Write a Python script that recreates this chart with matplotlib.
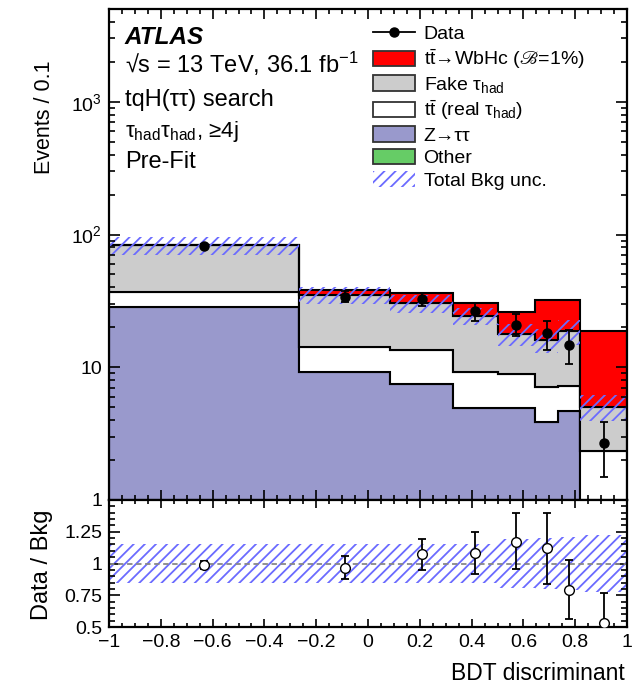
import numpy as np
import matplotlib
matplotlib.use("Agg")
import matplotlib.pyplot as plt
from matplotlib.patches import Patch
from matplotlib.lines import Line2D
from matplotlib.ticker import FixedLocator, MultipleLocator, LogLocator, FuncFormatter, NullFormatter

plt.rcParams["font.family"] = ["Liberation Sans", "DejaVu Sans"]
plt.rcParams["mathtext.fontset"] = "custom"
plt.rcParams["mathtext.rm"] = "Liberation Sans"
plt.rcParams["mathtext.it"] = "Liberation Sans:italic"
plt.rcParams["mathtext.bf"] = "Liberation Sans:bold"
plt.rcParams["mathtext.fallback"] = "stix"
plt.rcParams["hatch.linewidth"] = 1.3

# BDT bins and pre-fit yields (events / 0.1)
edges = np.array([-1.0, -0.265, 0.085, 0.33, 0.5, 0.645, 0.735, 0.82, 1.0])
other = np.array([0.3, 0.2, 0.2, 0.15, 0.15, 0.1, 0.1, 0.1])
ztautau = np.array([27.9, 9.0, 7.25, 4.76, 4.82, 3.8, 4.62, 0.4])
ttbar_real = np.array([8.6, 5.1, 5.95, 4.37, 3.93, 3.18, 2.52, 1.84])
fake = np.array([46.2, 20.9, 17.0, 15.1, 9.0, 9.0, 11.4, 2.71])
signal = np.array([0.4, 2.7, 5.8, 6.0, 8.4, 16.1, 13.6, 13.75])
bkg_unc = np.array([0.15, 0.15, 0.15, 0.15, 0.19, 0.20, 0.21, 0.225])  # relative
data = np.array([82.0, 34.0, 32.6, 26.4, 20.9, 18.0, 14.7, 2.7])
data_err_lo = np.array([2.5, 3.0, 3.7, 4.0, 3.8, 4.5, 4.2, 1.2])
data_err_hi = np.array([2.5, 3.4, 3.6, 4.1, 4.1, 4.5, 4.5, 1.17])

C_SIG, C_FAKE, C_TT, C_Z, C_OTHER = "#ff0000", "#cccccc", "white", "#9999cc", "#66cc66"
C_HATCH = "#6b6bff"
FS = 14

W, H = 639, 687
fig = plt.figure(figsize=(W / 100, H / 100), dpi=100)
L, R = 109 / W, 627 / W
ax = fig.add_axes([L, 1 - 500 / H, R - L, (500 - 9) / H])
axr = fig.add_axes([L, 1 - 627 / H, R - L, (627 - 500) / H])

centers = 0.5 * (edges[:-1] + edges[1:])
bkg = other + ztautau + ttbar_real + fake

# stacked histogram, bottom to top
base = np.full(len(centers), 1e-3)
for vals, col in [(other, C_OTHER), (ztautau, C_Z), (ttbar_real, C_TT), (fake, C_FAKE), (signal, C_SIG)]:
    top = base + vals
    ax.stairs(top, edges, baseline=base, fill=True, facecolor=col,
              edgecolor="black", linewidth=1.5)
    base = top

ax.stairs(bkg * (1 + bkg_unc), edges, baseline=bkg * (1 - bkg_unc), fill=True,
          facecolor="none", edgecolor=C_HATCH, hatch="///", linewidth=0)
ax.errorbar(centers, data, yerr=[data_err_lo, data_err_hi], fmt="o", color="black",
            ms=6.5, capsize=3, elinewidth=1.3, capthick=1.3, zorder=5)

ax.set_yscale("log")
ax.set_xlim(-1, 1)
ax.set_ylim(1, 5000)

# ratio panel
ratio = data / bkg
axr.stairs(1 + bkg_unc, edges, baseline=1 - bkg_unc, fill=True, facecolor="none",
           edgecolor=C_HATCH, hatch="///", linewidth=0)
axr.axhline(1, color="#888888", ls=(0, (3, 2)), lw=1.3)
axr.errorbar(centers, ratio, yerr=[data_err_lo / bkg, data_err_hi / bkg], fmt="o",
             color="black", mfc="white", ms=7, capsize=3, elinewidth=1.3,
             capthick=1.3, zorder=5)
axr.set_xlim(-1, 1)
axr.set_ylim(0.5, 1.5)

# ticks, ATLAS style
for a in (ax, axr):
    for s in a.spines.values():
        s.set_linewidth(1.6)
    a.tick_params(which="both", direction="in", top=True, right=True, width=1.2,
                  labelsize=FS, pad=5)
    a.xaxis.set_major_locator(MultipleLocator(0.2))
    a.xaxis.set_minor_locator(MultipleLocator(0.05))
ax.tick_params(axis="y", which="major", length=8)
ax.tick_params(axis="y", which="minor", length=4.5)
ax.tick_params(axis="x", which="major", length=7)
ax.tick_params(axis="x", which="minor", length=3.5)
ax.yaxis.set_major_locator(LogLocator(base=10, numticks=10))
ax.yaxis.set_minor_locator(LogLocator(base=10, subs=np.arange(2, 10), numticks=20))
ax.yaxis.set_minor_formatter(NullFormatter())
ax.yaxis.set_major_formatter(FuncFormatter(
    lambda v, p: {1: "1", 10: "10"}.get(int(round(v)), r"10$^{%d}$" % round(np.log10(v)))))
ax.xaxis.set_major_formatter(NullFormatter())

axr.yaxis.set_major_locator(FixedLocator([0.5, 0.75, 1.0, 1.25]))
axr.yaxis.set_minor_locator(MultipleLocator(0.05))
axr.yaxis.set_major_formatter(FuncFormatter(lambda v, p: "%g" % v))
axr.tick_params(axis="y", which="major", length=8)
axr.tick_params(axis="y", which="minor", length=4)
axr.tick_params(axis="x", which="major", length=6)
axr.tick_params(axis="x", which="minor", length=3)
axr.xaxis.set_major_formatter(FuncFormatter(
    lambda v, p: "0" if abs(v) < 1e-9 else ("%g" % v).replace("-", "\u2212")))


def ftext(x, y, s, **kw):
    kw.setdefault("fontsize", 16)
    fig.text(x / W, 1 - y / H, s, **kw)


ftext(44, 61, "Events / 0.1", rotation=90, ha="center", va="top", fontsize=15.5)
ftext(42, 565, "Data / Bkg", rotation=90, ha="center", va="center", fontsize=17)
ftext(625, 674, "BDT discriminant", ha="right", va="center", fontsize=16.5)

ftext(125, 37, "ATLAS", weight="bold", style="italic", va="center", fontsize=17.5)
ftext(125, 64, "\u221as = 13 TeV, 36.1 fb$^{-1}$", va="center", fontsize=17)
ftext(125, 100, "tqH(\u03c4\u03c4) search", va="center", fontsize=17)
ftext(125, 132, "\u03c4$_{\\rm had}$\u03c4$_{\\rm had}$, \u22654j", va="center")
ftext(125, 162, "Pre-Fit", va="center", fontsize=17)

handles = [
    Line2D([], [], color="black", marker="o", ms=6.5, lw=1.3),
    Patch(facecolor=C_SIG, edgecolor="#333333", lw=1.3),
    Patch(facecolor=C_FAKE, edgecolor="#333333", lw=1.3),
    Patch(facecolor=C_TT, edgecolor="#333333", lw=1.3),
    Patch(facecolor=C_Z, edgecolor="#333333", lw=1.3),
    Patch(facecolor=C_OTHER, edgecolor="#333333", lw=1.3),
    Patch(facecolor="none", edgecolor=C_HATCH, hatch="///", lw=0),
]
labels = [
    "Data",
    "$\\mathrm{t\\bar{t}}$\u2192WbHc ($ℬ$=1%)",
    "Fake \u03c4$_{\\rm had}$",
    "$\\mathrm{t\\bar{t}}$ (real \u03c4$_{\\rm had}$)",
    "Z\u2192\u03c4\u03c4",
    "Other",
    "Total Bkg unc.",
]
fig.legend(handles, labels, loc="upper left", bbox_to_anchor=(373 / W, 1 - 25 / H),
           frameon=False, fontsize=FS, handlelength=2.15, handleheight=0.85,
           handletextpad=0.45, labelspacing=0.2, borderpad=0, borderaxespad=0)

fig.savefig("out.png", dpi=100)
